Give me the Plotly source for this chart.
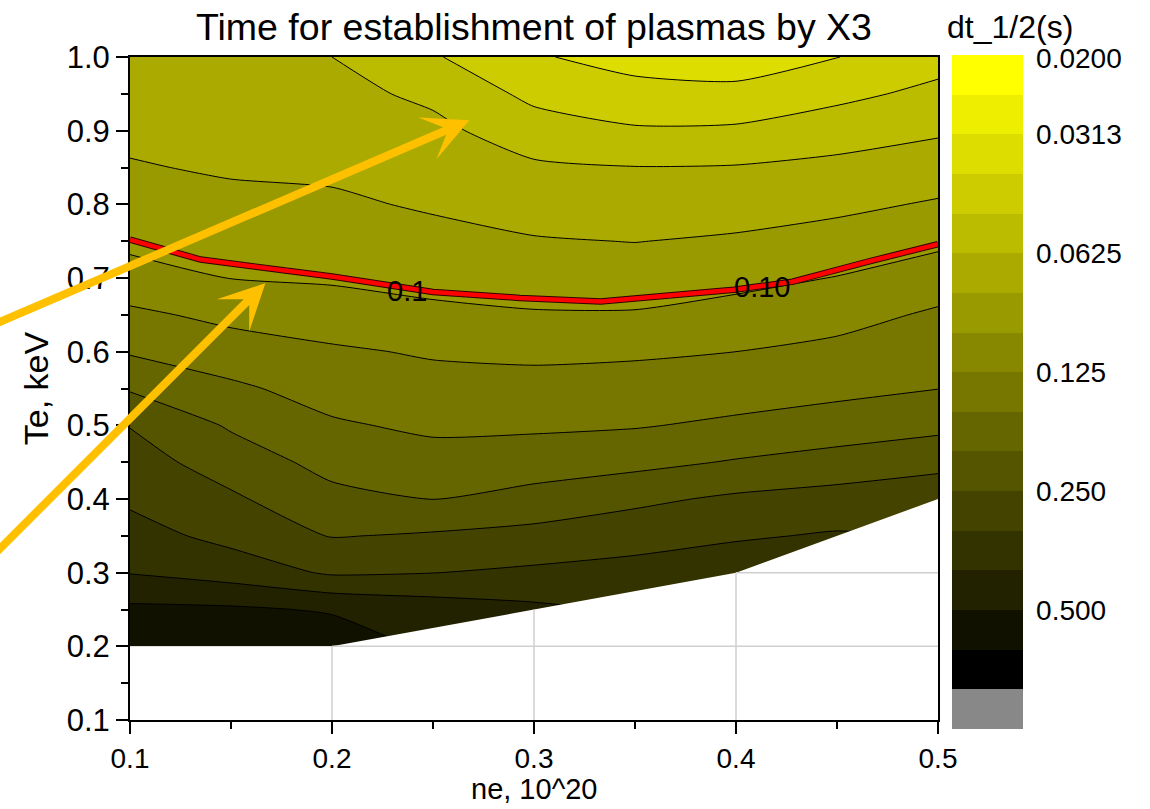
import numpy as np
import plotly.graph_objects as go

# ---------------- data ----------------
ne = [0.10, 0.15, 0.20, 0.25, 0.30, 0.35, 0.40, 0.45, 0.50]
te = [0.20, 0.25, 0.30, 0.35, 0.40, 0.45, 0.50, 0.55, 0.60,
      0.65, 0.70, 0.75, 0.80, 0.85, 0.90, 0.95, 1.00]
nan = None
# dt_1/2 (s) for each Te row, columns follow ne
dt_te020 = [0.602, 0.588, 0.574, nan, nan, nan, nan, nan, nan]
dt_te025 = [0.524, 0.518, 0.489, 0.448, 0.416, nan, nan, nan, nan]
dt_te030 = [0.393, 0.358, 0.306, 0.314, 0.328, 0.342, 0.362, nan, nan]
dt_te035 = [0.343, 0.295, 0.247, 0.257, 0.269, 0.287, 0.307, 0.322, nan]
dt_te040 = [0.304, 0.259, 0.212, 0.198, 0.215, 0.238, 0.260, 0.273, 0.284]
dt_te045 = [0.275, 0.225, 0.184, 0.172, 0.177, 0.186, 0.202, 0.218, 0.236]
dt_te050 = [0.248, 0.193, 0.162, 0.151, 0.152, 0.155, 0.164, 0.174, 0.186]
dt_te055 = [0.194, 0.164, 0.144, 0.136, 0.136, 0.138, 0.142, 0.149, 0.157]
dt_te060 = [0.154, 0.139, 0.129, 0.122, 0.119, 0.121, 0.125, 0.132, 0.142]
dt_te065 = [0.131, 0.118, 0.111, 0.104, 0.101, 0.101, 0.108, 0.116, 0.129]
dt_te070 = [0.108, 0.0988, 0.0965, 0.0928, 0.0896, 0.0888, 0.0928, 0.100, 0.112]
dt_te075 = [0.0945, 0.0905, 0.0886, 0.0840, 0.0800, 0.0784, 0.0810, 0.0862, 0.0945]
dt_te080 = [0.0870, 0.0829, 0.0815, 0.0768, 0.0720, 0.0702, 0.0715, 0.0748, 0.0806]
dt_te085 = [0.0800, 0.0769, 0.0757, 0.0711, 0.0647, 0.0629, 0.0634, 0.0661, 0.0698]
dt_te090 = [0.0752, 0.0726, 0.0711, 0.0661, 0.0554, 0.0509, 0.0514, 0.0563, 0.0608]
dt_te095 = [0.0710, 0.0686, 0.0667, 0.0597, 0.0468, 0.0427, 0.0421, 0.0468, 0.0526]
dt_te100 = [0.0670, 0.0647, 0.0625, 0.0508, 0.0403, 0.0361, 0.0346, 0.0392, 0.0454]

# lower edge of the computed region
bnd_ne = [0.10, 0.20, 0.30, 0.40, 0.50]
bnd_te = [0.20, 0.20, 0.25, 0.30, 0.40]

# highlighted dt = 0.1 s line
red_ne = [0.100, 0.135, 0.200, 0.225, 0.250, 0.293, 0.333, 0.399, 0.428, 0.465, 0.500]
red_te = [0.752, 0.725, 0.702, 0.691, 0.681, 0.673, 0.668, 0.684, 0.695, 0.722, 0.746]
red_lbl_ne = [0.237, 0.413]
red_lbl_te = [0.682, 0.688]
red_lbl_txt = ["0.1", "0.10"]

# colour bar labels
cb_vals = [0.0200, 0.03125, 0.0625, 0.125, 0.25, 0.5]
cb_text = ["0.0200", "0.0313", "0.0625", "0.125", "0.250", "0.500"]

# orange pointer arrows (tip and tail)
arr_tip_ne = [0.268, 0.167]
arr_tip_te = [0.914, 0.693]
arr_tail_ne = [0.031, 0.031]
arr_tail_te = [0.635, 0.320]

x_rng = [0.1, 0.5]
y_rng = [0.1, 1.0]
FONT = "Liberation Sans, Arial, sans-serif"

# ---------------- build ----------------
dt = np.array([dt_te020, dt_te025, dt_te030, dt_te035, dt_te040, dt_te045,
               dt_te050, dt_te055, dt_te060, dt_te065, dt_te070, dt_te075,
               dt_te080, dt_te085, dt_te090, dt_te095, dt_te100], dtype=float)
z = -np.log2(dt)          # log scale, reversed so that long times sit at the bottom

step = 1.0 / 3.0           # 3 levels per factor of two
nlev = 17
band_cols = ["rgb(136,136,136)"] + [
    "rgb({0},{0},0)".format(17 * (j - 1)) for j in range(1, nlev)]
cs_contour = [[j / nlev, band_cols[j]] for j in range(nlev)] + [[1.0, band_cols[-1]]]
cs_bar = []
for j in range(nlev):
    cs_bar.append([j / nlev, band_cols[j]])
    cs_bar.append([(j + 1) / nlev, band_cols[j]])

fig = go.Figure()

fig.add_trace(go.Contour(
    x=ne, y=te, z=z, connectgaps=True,
    colorscale=cs_contour, autocontour=False,
    contours=dict(start=step, end=(nlev) * step, size=step,
                  coloring="fill", showlines=True),
    line=dict(color="black", width=1, smoothing=0.6),
    showscale=False, hoverinfo="skip"))

# blank out the region without data
mask_x = list(bnd_ne) + [x_rng[1], x_rng[0], bnd_ne[0]]
mask_y = list(bnd_te) + [y_rng[0], y_rng[0], bnd_te[0]]
fig.add_trace(go.Scatter(x=mask_x, y=mask_y, fill="toself", fillcolor="white",
                         mode="lines", line=dict(width=0, color="white"),
                         hoverinfo="skip", showlegend=False))

# grid lines visible in the blank region
gx, gy = [], []
for t in [0.2, 0.3, 0.4]:
    top = float(np.interp(t, bnd_ne, bnd_te))
    if top > y_rng[0]:
        gx += [t, t, None]
        gy += [y_rng[0], top, None]
for t in [0.2, 0.3]:
    xs = float(np.interp(t, bnd_te[1:], bnd_ne[1:]))
    gx += [xs, x_rng[1], None]
    gy += [t, t, None]
fig.add_trace(go.Scatter(x=gx, y=gy, mode="lines",
                         line=dict(color="#cfcfcf", width=1.5),
                         hoverinfo="skip", showlegend=False))

# red dt = 0.1 line
fig.add_trace(go.Scatter(x=red_ne, y=red_te, mode="lines",
                         line=dict(color="#300000", width=6.5),
                         hoverinfo="skip", showlegend=False))
fig.add_trace(go.Scatter(x=red_ne, y=red_te, mode="lines",
                         line=dict(color="#ff0000", width=4.5),
                         hoverinfo="skip", showlegend=False))

# colour bar
fig.add_trace(go.Scatter(
    x=[None], y=[None], mode="markers", hoverinfo="skip", showlegend=False,
    marker=dict(color=[0], colorscale=cs_bar, cmin=0, cmax=nlev * step,
                showscale=True,
                colorbar=dict(thicknessmode="pixels", thickness=71,
                              lenmode="pixels", len=674,
                              x=(952 - 130) / 808, xanchor="left", xpad=0,
                              y=1.003, yanchor="top", ypad=0,
                              outlinewidth=0,
                              tickvals=[-np.log2(v) for v in cb_vals],
                              ticktext=cb_text,
                              ticks="outside", ticklen=8,
                              tickcolor="rgba(0,0,0,0)",
                              tickfont=dict(size=28, color="black", family=FONT)))))

annotations = []
for xv, yv, tx in zip(red_lbl_ne, red_lbl_te, red_lbl_txt):
    annotations.append(dict(x=xv, y=yv, xref="x", yref="y", text=tx,
                            showarrow=False, xanchor="center", yanchor="middle",
                            font=dict(size=29, color="black", family=FONT)))
for xt, yt, xa, ya in zip(arr_tip_ne, arr_tip_te, arr_tail_ne, arr_tail_te):
    annotations.append(dict(x=xt, y=yt, ax=xa, ay=ya, xref="x", yref="y",
                            axref="x", ayref="y", text="", showarrow=True,
                            arrowhead=3, arrowsize=0.95, arrowwidth=8,
                            arrowcolor="#ffc000", standoff=0))
annotations.append(dict(x=(1010 - 130) / 808, y=(720 - 27) / 663,
                        xref="paper", yref="paper", text="dt_1/2(s)",
                        showarrow=False, xanchor="center", yanchor="middle",
                        font=dict(size=32, color="black", family=FONT)))
# x-axis title placed in the bottom margin
annotations.append(dict(x=0.5, y=-(789 - 720) / 663, xref="paper", yref="paper",
                        text="ne, 10^20", showarrow=False,
                        xanchor="center", yanchor="middle",
                        font=dict(size=29, color="black", family=FONT)))

axis_common = dict(showline=True, linewidth=2, linecolor="black", mirror=True,
                   ticks="outside", ticklen=12, tickwidth=2, tickcolor="black",
                   showgrid=False, zeroline=False, tickformat=".1f",
                   automargin=False)

fig.update_layout(
    width=1150, height=809,
    margin=dict(l=130, r=212, t=57, b=89, autoexpand=False),
    paper_bgcolor="white", plot_bgcolor="white",
    showlegend=False,
    title=dict(text="Time for establishment of plasmas by X3",
               x=0.5, xref="paper", xanchor="center",
               y=1 - 27 / 809, yref="container", yanchor="middle",
               font=dict(size=37.5, color="black", family=FONT)),
    xaxis=dict(range=x_rng, dtick=0.1, tick0=0.1,
               minor=dict(dtick=0.05, tick0=0.1, ticks="outside", ticklen=7,
                          tickwidth=2, tickcolor="black", showgrid=False),
               tickfont=dict(size=28, color="black", family=FONT),
               **axis_common),
    yaxis=dict(range=y_rng, dtick=0.1, tick0=0.1,
               minor=dict(dtick=0.05, tick0=0.1, ticks="outside", ticklen=7,
                          tickwidth=2, tickcolor="black", showgrid=False),
               tickfont=dict(size=31, color="black", family=FONT),
               title=dict(text="Te, keV", standoff=8,
                          font=dict(size=34, color="black", family=FONT)),
               **axis_common),
    annotations=annotations,
)

fig.write_html("out.html")
